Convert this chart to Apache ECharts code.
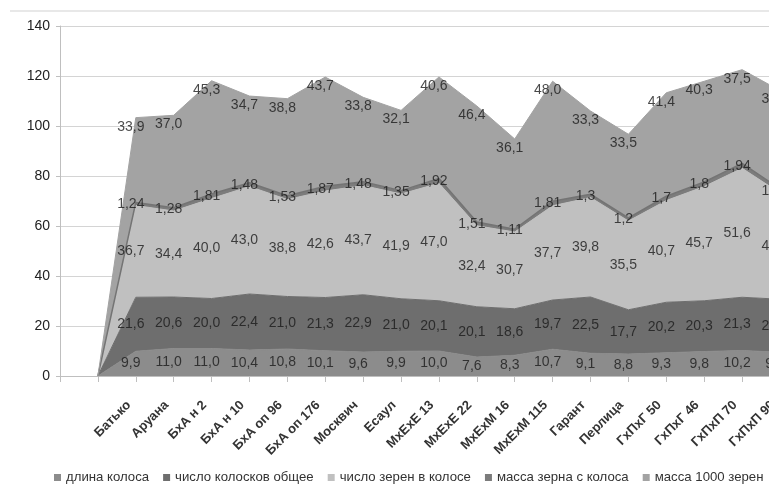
<!DOCTYPE html>
<html>
<head>
<meta charset="utf-8">
<script src="https://cdn.jsdelivr.net/npm/echarts@6/dist/echarts.min.js"></script>
<style>
  html, body { margin: 0; padding: 0; background: #fff; overflow: hidden; }
  #chart { width: 900px; height: 502px; }
</style>
</head>
<body>
<div id="chart"></div>
<script>
// categories (two empty slots before the first variety, as in the source)
const categories = ['', '', 'Батько', 'Аруана', 'БхА н 2', 'БхА н 10', 'БхА оп 96', 'БхА оп 176',
  'Москвич', 'Есаул', 'МхЕхЕ 13', 'МхЕхЕ 22', 'МхЕхМ 16', 'МхЕхМ 115', 'Гарант', 'Перлица',
  'ГхПхГ 50', 'ГхПхГ 46', 'ГхПхП 70', 'ГхПхП 90'];

const dlinaKolosa = ['-', 0, 9.9, 11.0, 11.0, 10.4, 10.8, 10.1, 9.6, 9.9, 10.0, 7.6, 8.3, 10.7, 9.1, 8.8, 9.3, 9.8, 10.2, 9.5];
const chisloKoloskov = ['-', 0, 21.6, 20.6, 20.0, 22.4, 21.0, 21.3, 22.9, 21.0, 20.1, 20.1, 18.6, 19.7, 22.5, 17.7, 20.2, 20.3, 21.3, 21.2];
const chisloZeren = ['-', 0, 36.7, 34.4, 40.0, 43.0, 38.8, 42.6, 43.7, 41.9, 47.0, 32.4, 30.7, 37.7, 39.8, 35.5, 40.7, 45.7, 51.6, 42.5];
const massaZerna = ['-', 0, 1.24, 1.28, 1.81, 1.48, 1.53, 1.87, 1.48, 1.35, 1.92, 1.51, 1.11, 1.81, 1.3, 1.2, 1.7, 1.8, 1.94, 1.67];
const massa1000 = ['-', 0, 33.9, 37.0, 45.3, 34.7, 38.8, 43.7, 33.8, 32.1, 40.6, 46.4, 36.1, 48.0, 33.3, 33.5, 41.4, 40.3, 37.5, 39.3];

const yTicks = { min: 0, max: 140, interval: 20 };

const names = ['длина колоса', 'число колосков общее', 'число зерен в колосе', 'масса зерна с колоса', 'масса 1000 зерен'];
const colors = ['#8c8c8c', '#6e6e6e', '#c0c0c0', '#7c7c7c', '#a3a3a3'];
const layers = [dlinaKolosa, chisloKoloskov, chisloZeren, massaZerna, massa1000];

const font = '"Liberation Sans Narrow", "Liberation Sans", sans-serif';

const chart = echarts.init(document.getElementById('chart'));

// area series
const series = layers.map((arr, i) => ({
  name: names[i],
  type: 'line',
  stack: 'total',
  data: arr,
  symbol: 'none',
  color: colors[i],
  lineStyle: i === 3 ? { width: 1.5, color: '#747474' } : { width: 1, color: colors[i] },
  areaStyle: { color: colors[i], opacity: 1 },
  z: 2
}));

// value labels: middle of each lower band, just under the top edge for the last one
const fmt = (v, i) => i === 3 ? String(v).replace('.', ',') : v.toFixed(1).replace('.', ',');
for (let i = 0; i < 5; i++) {
  const pts = categories.map((c, k) => {
    const v = layers[i][k];
    if (v === '-' || v === 0) return '-';
    let below = 0;
    for (let j = 0; j < i; j++) below += layers[j][k];
    return { value: i === 4 ? below + v : below + v / 2, raw: v };
  });
  series.push({
    type: 'scatter',
    data: pts,
    symbolSize: 0,
    silent: true,
    z: 10,
    label: {
      show: true,
      position: i === 4 ? 'bottom' : 'inside',
      distance: 2,
      offset: [-5, 0],
      fontFamily: font, fontSize: 14, color: '#1a1a1a',
      formatter: p => fmt(p.data.raw, i)
    }
  });
}

chart.setOption({
  animation: false,
  textStyle: { fontFamily: font },
  graphic: [{
    type: 'line', shape: { x1: 10, y1: 11, x2: 900, y2: 11 },
    style: { stroke: '#e0e0e0', lineWidth: 1.5 }
  }],
  legend: {
    data: names,
    left: 49,
    top: 466,
    icon: 'rect',
    itemWidth: 7,
    itemHeight: 7,
    itemGap: 14,
    textStyle: { fontFamily: font, fontSize: 13.2, color: '#333' }
  },
  grid: { left: 60, right: 120, top: 26, bottom: 126 },
  xAxis: {
    type: 'category',
    data: categories,
    boundaryGap: false,
    axisLine: { lineStyle: { color: '#bfbfbf' } },
    axisTick: { show: true, length: 6, lineStyle: { color: '#bfbfbf' } },
    axisLabel: {
      interval: 0, rotate: 45, margin: 20,
      padding: [0, 10, 0, 0],
      fontFamily: font, fontSize: 13, fontWeight: 'bold', color: '#333'
    }
  },
  yAxis: {
    type: 'value',
    min: yTicks.min, max: yTicks.max, interval: yTicks.interval,
    axisLine: { show: true, lineStyle: { color: '#bfbfbf' } },
    axisTick: { show: true, length: 4, lineStyle: { color: '#bfbfbf' } },
    axisLabel: { fontFamily: '"Liberation Sans", sans-serif', fontSize: 14, color: '#222', margin: 10 },
    splitLine: { lineStyle: { color: '#d4d4d4' } }
  },
  series: series
});
</script>
</body>
</html>
